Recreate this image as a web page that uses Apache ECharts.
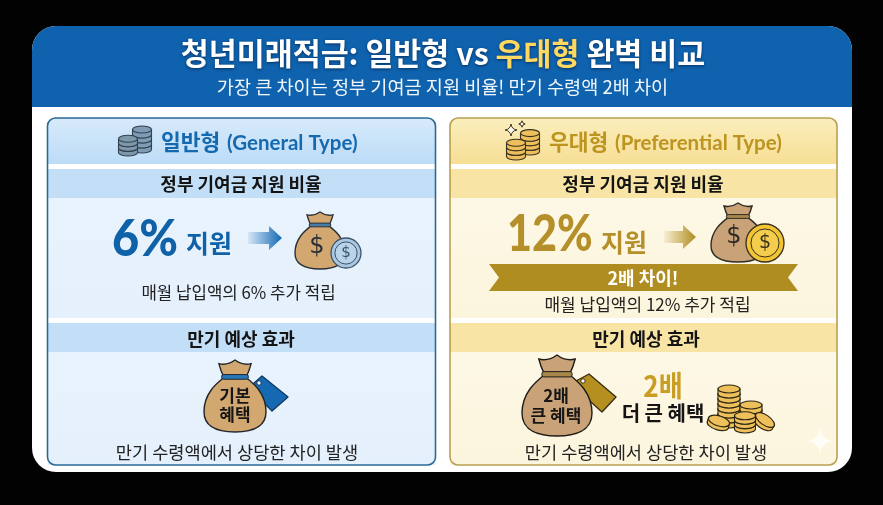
<!DOCTYPE html>
<html><head><meta charset="utf-8">
<style>html,body{margin:0;padding:0;background:#020202}#c{width:883px;height:505px}</style>
<script src="https://cdn.jsdelivr.net/npm/echarts@6/dist/echarts.min.js"></script>
</head><body><div id="c"></div>
<script>
const titleParts = ['청년미래적금: 일반형 vs ', '우대형', ' 완벽 비교'];
const subtitle = '가장 큰 차이는 정부 기여금 지원 비율! 만기 수령액 2배 차이';
const typeNames = ['일반형', '우대형'];
const typeNamesEn = ['(General Type)', '(Preferential Type)'];
const sectionHeads = ['정부 기여금 지원 비율', '만기 예상 효과'];
const supportRates = [6, 12];
const rateWord = '지원';
const monthlyNote = r => '매월 납입액의 ' + r + '% 추가 적립';
const ribbonText = '2배 차이!';
const bagLabels = [['기본', '혜택'], ['2배', '큰 혜택']];
const bigMultiple = '2배';
const biggerBenefit = '더 큰 혜택';
const bottomNote = '만기 수령액에서 상당한 차이 발생';

const FONT = '"Noto Sans CJK KR","Noto Sans",sans-serif';
const els = [];
let pid = 0;
function P(d, style) {
  const name = 'svgp' + (pid++);
  echarts.graphic.registerShape(name, echarts.graphic.extendPath(d, {}));
  els.push({type: name, style});
}
function R(x, y, w, h, fill, r, extra) {
  els.push({type: 'rect', shape: {x, y, width: w, height: h, r: r || 0}, style: Object.assign({fill}, extra || {})});
}
function T(text, x, y, size, fill, o) {
  o = o || {};
  els.push({type: 'text', x, y, scaleX: o.scaleX || 1, style: Object.assign({
    text, fill, font: (o.weight || 'bold') + ' ' + size + 'px ' + (o.family || FONT),
    textAlign: o.align || 'center', textVerticalAlign: 'middle'
  }, o.style || {})});
}
const V = (a, b) => ({type: 'linear', x: 0, y: 0, x2: 0, y2: 1, colorStops: [{offset: 0, color: a}, {offset: 1, color: b}]});
const H = (a, b) => ({type: 'linear', x: 0, y: 0, x2: 1, y2: 0, colorStops: [{offset: 0, color: a}, {offset: 1, color: b}]});

function bag(cx, top, w, h, fill, band, stroke) {
  const hw = w / 2, b = top + h, ny = top + h * 0.23, nw = w * 0.16;
  P(`M${cx - nw} ${ny} C${cx - hw * 0.55} ${ny + h * 0.08} ${cx - hw} ${top + h * 0.45} ${cx - hw} ${top + h * 0.72} C${cx - hw} ${b - h * 0.06} ${cx - hw * 0.5} ${b} ${cx} ${b} C${cx + hw * 0.5} ${b} ${cx + hw} ${b - h * 0.06} ${cx + hw} ${top + h * 0.72} C${cx + hw} ${top + h * 0.45} ${cx + hw * 0.55} ${ny + h * 0.08} ${cx + nw} ${ny} Z`,
    {fill, stroke, lineWidth: 1.4});
  P(`M${cx - hw * 0.52} ${top + h * 0.05} Q${cx - hw * 0.25} ${top + h * 0.08} ${cx} ${top} Q${cx + hw * 0.25} ${top + h * 0.08} ${cx + hw * 0.52} ${top + h * 0.05} Q${cx + hw * 0.46} ${top + h * 0.15} ${cx + nw * 1.15} ${ny} L${cx - nw * 1.15} ${ny} Q${cx - hw * 0.46} ${top + h * 0.15} ${cx - hw * 0.52} ${top + h * 0.05} Z`,
    {fill, stroke, lineWidth: 1.4});
  R(cx - nw * 1.35, ny - 2, nw * 2.7, h * 0.065, band, 2, {stroke, lineWidth: 1});
}
function tag(x0, y0, x1, y1, x2, y2, x3, y3, x4, y4, fill, stroke, hx, hy) {
  P(`M${x0} ${y0} L${x1} ${y1} L${x2} ${y2} L${x3} ${y3} L${x4} ${y4} Z`, {fill, stroke, lineWidth: 1.4, lineJoin: 'round'});
  els.push({type: 'circle', shape: {cx: hx, cy: hy, r: 2.2}, style: {fill: '#fff', stroke, lineWidth: 1}});
}
function coin(cx, cy, r, fill, ring, stroke, size) {
  els.push({type: 'circle', shape: {cx, cy, r}, style: {fill, stroke, lineWidth: 1.3}});
  els.push({type: 'circle', shape: {cx, cy, r: r * 0.74}, style: {fill: ring, stroke, lineWidth: 1}});
  T('$', cx, cy, size, stroke, {family: '"DejaVu Sans"', weight: 'normal'});
}
function stack(cx, bottom, rx, ry, n, th, fill, stroke, lw) {
  for (let i = 0; i < n; i++) {
    const cy = bottom - ry - i * th;
    P(`M${cx - rx} ${cy - th} L${cx - rx} ${cy} A${rx} ${ry} 0 0 0 ${cx + rx} ${cy} L${cx + rx} ${cy - th} Z`, {fill, stroke, lineWidth: lw});
    els.push({type: 'ellipse', shape: {cx, cy: cy - th, rx, ry}, style: {fill, stroke, lineWidth: lw}});
  }
}
function flatCoin(cx, cy, rx, ry, th, rot, fill, stroke) {
  els.push({type: 'group', x: cx, y: cy, rotation: rot, children: [
    {type: 'rect', shape: {x: -rx, y: 0, width: rx * 2, height: th}, style: {fill, stroke, lineWidth: 1}},
    {type: 'ellipse', shape: {cx: 0, cy: th, rx, ry}, style: {fill, stroke, lineWidth: 1.2}},
    {type: 'rect', shape: {x: -rx + .6, y: 0, width: rx * 2 - 1.2, height: th}, style: {fill}},
    {type: 'ellipse', shape: {cx: 0, cy: 0, rx, ry}, style: {fill, stroke, lineWidth: 1.2}}
  ]});
}
function sparkle(cx, cy, r, fill, stroke) {
  const q = r * 0.22;
  P(`M${cx} ${cy - r} Q${cx + q * .5} ${cy - q * .5} ${cx + r} ${cy} Q${cx + q * .5} ${cy + q * .5} ${cx} ${cy + r} Q${cx - q * .5} ${cy + q * .5} ${cx - r} ${cy} Q${cx - q * .5} ${cy - q * .5} ${cx} ${cy - r} Z`,
    {fill, stroke: stroke || null, lineWidth: 1});
}
function arrow(x0, x1, yc, color, fade) {
  const s = x1 - 13;
  P(`M${x0} ${yc - 6} L${s} ${yc - 6} L${s} ${yc - 12} L${x1} ${yc} L${s} ${yc + 12} L${s} ${yc + 6} L${x0} ${yc + 6} Z`, {fill: H(fade, color)});
}

// page card
R(32, 26, 820, 446, '#ffffff', 24);
R(32, 26, 820, 81, '#0f62ad', [24, 24, 0, 0]);
const titleStyle = {font: 'bold 30.4px ' + FONT, textShadowColor: '#06305f', textShadowBlur: 3, textShadowOffsetY: 1};
T('{a|' + titleParts[0] + '}{b|' + titleParts[1] + '}{a|' + titleParts[2] + '}', 443, 53, 30.4, '#fff', {style: {
  rich: {a: Object.assign({fill: '#ffffff'}, titleStyle), b: Object.assign({fill: '#ffd862'}, titleStyle)}
}});
T(subtitle, 442.5, 87, 18.6, '#f1f6fc', {weight: 'normal'});

// panels
function panel(x, w, c) {
  R(x, 118, w, 347, c.body, 8);
  R(x, 118, w, 46, V(c.h0, c.h1), [8, 8, 0, 0]);
  R(x, 164, w, 5, '#ffffff');
  R(x, 169, w, 29, c.sec);
  R(x, 198, w, 120, V(c.body0, c.body));
  R(x, 318, w, 5, '#ffffff');
  R(x, 323, w, 29, c.sec);
  R(x, 352, w, 113, V(c.body0, c.body));
  R(x, 118, w, 347, 'transparent', 8, {stroke: c.border, lineWidth: 1.6});
}
const BLUE = {h0: '#d7eafb', h1: '#bcdcf7', sec: '#c3dff7', body0: '#e9f3fd', body: '#e4f0fc', border: '#2a6b96'};
const GOLD = {h0: '#fbeebd', h1: '#f6de94', sec: '#f8e4a4', body0: '#fdf8e6', body: '#fcf5dd', border: '#b8a052'};
panel(47.5, 388, BLUE);
panel(450, 387, GOLD);

// left panel
const tan = '#d2a870', bagTan = '#c9a277';
stack(142, 153, 9.5, 3.5, 4, 5, '#7e9cb6', '#33424f', 1.1);
stack(128, 156, 9.5, 3.5, 3, 4.6, '#7f97ab', '#33424f', 1.1);
T(typeNames[0], 161, 142, 21.5, '#1569ae', {align: 'left'});
T(typeNamesEn[0], 227, 143, 20.5, '#1569ae', {align: 'left', family: 'Lato,"Noto Sans"'});
T(sectionHeads[0], 241, 184, 18, '#141414');
T(supportRates[0] + '%', 112, 239, 52, '#0f62a8', {align: 'left', family: 'Lato,"Noto Sans"', weight: '900', scaleX: 0.9});
T(rateWord, 186, 243, 25, '#0f62a8', {align: 'left'});
arrow(248, 282, 238, '#1168b3', 'rgba(17,104,179,0.08)');
bag(320, 212, 50, 57, tan, '#4a7da6', '#2c3138');
T('$', 317, 247, 24, '#2c3138', {family: '"DejaVu Sans"', weight: 'normal'});
coin(346, 253, 15, '#a9c8e2', '#b9d4ea', '#3c5368', 15);
T(monthlyNote(supportRates[0]), 238.5, 293, 16.8, '#222', {weight: 'normal'});
T(sectionHeads[1], 241, 339, 18, '#141414');
tag(253, 384, 262, 376, 288, 397, 272, 411, 255, 394, '#1569b3', '#123a63', 259, 383);
bag(235, 360, 62, 72, tan, '#2676b8', '#22262b');
T(bagLabels[0][0], 235, 396, 17, '#161616');
T(bagLabels[0][1], 235, 415, 17, '#161616');
T(bottomNote, 237, 452, 17.6, '#222', {weight: 'normal'});

// right panel
sparkle(511, 130, 6, '#fffbe8', '#3a3222');
sparkle(522, 124, 3.2, '#fffbe8', '#3a3222');
stack(530, 155, 9.5, 3.5, 4, 4.6, '#eec05c', '#3a3222', 1.1);
stack(516, 160, 9.5, 3.5, 3, 4.6, '#eec05c', '#3a3222', 1.1);
T(typeNames[1], 549, 142, 21.5, '#bd9420', {align: 'left'});
T(typeNamesEn[1], 615, 143, 20.5, '#bd9420', {align: 'left', family: 'Lato,"Noto Sans"'});
T(sectionHeads[0], 643, 184, 18, '#141414');
T(supportRates[1] + '%', 507, 234, 52, '#b5902a', {align: 'left', family: 'Lato,"Noto Sans"', weight: '900', scaleX: 0.83});
T(rateWord, 601, 242, 25, '#b5902a', {align: 'left'});
arrow(664, 696, 237, '#b08d20', 'rgba(176,141,32,0.08)');
bag(738, 203, 54, 59, bagTan, '#a8874a', '#2f2c26');
T('$', 734, 237, 24, '#2f2c26', {family: '"DejaVu Sans"', weight: 'normal'});
coin(765, 243, 19, '#f2c433', '#f5cd4c', '#37301c', 19);
P('M489 264 L798 264 L788 277.5 L798 291 L489 291 L499 277.5 Z', {fill: '#b08d20'});
T(ribbonText, 643, 278, 18, '#ffffff');
T(monthlyNote(supportRates[1]), 647.5, 305, 17, '#222', {weight: 'normal'});
T(sectionHeads[1], 646, 339, 18, '#141414');
tag(576, 381, 589, 374, 616, 397, 602, 412, 582, 394, '#b58f1f', '#3a3013', 583, 381);
bag(557, 355, 70, 81, bagTan, '#a8874a', '#1f1d18');
T(bagLabels[1][0], 556, 396, 17, '#161616');
T(bagLabels[1][1], 556, 416, 17, '#161616');
T(bigMultiple, 663, 386, 29, '#c99e22', {scaleX: 0.9});
T(biggerBenefit, 663, 413, 20, '#141414');
stack(729, 428, 11, 4, 7, 5, '#eec05c', '#2c2612', 1.1);
stack(751, 424, 11, 4, 3, 5, '#eec05c', '#2c2612', 1.1);
flatCoin(719, 421, 11, 5, 4, -0.3, '#eec05c', '#2c2612');
flatCoin(765, 420, 11, 5, 4, -0.6, '#eec05c', '#2c2612');
stack(745, 433, 10.5, 4, 3, 4.4, '#eec05c', '#2c2612', 1.1);
T(bottomNote, 646, 452, 17.6, '#222', {weight: 'normal'});
sparkle(820, 441, 13, 'rgba(255,255,255,0.75)');

const chart = echarts.init(document.getElementById('c'), null, {renderer: 'canvas', width: 883, height: 505});
chart.setOption({animation: false, backgroundColor: '#020202', graphic: {elements: els}});
</script></body></html>
